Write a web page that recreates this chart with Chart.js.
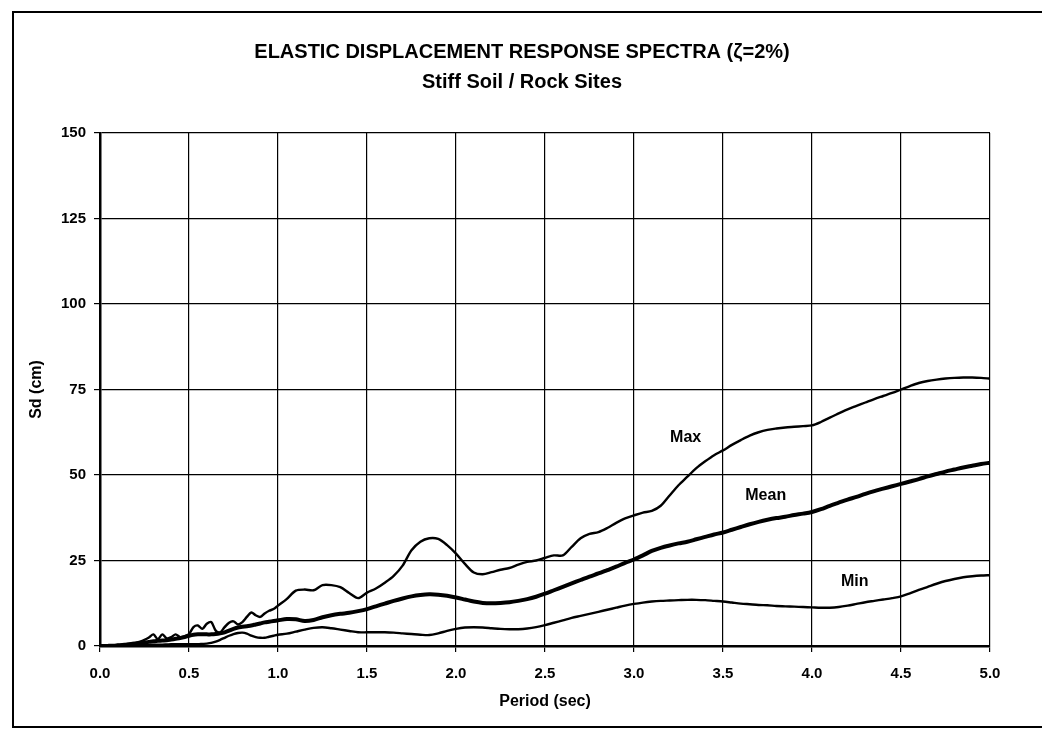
<!DOCTYPE html>
<html>
<head>
<meta charset="utf-8">
<script src="https://cdn.jsdelivr.net/npm/chart.js@4.4.1/dist/chart.umd.min.js"></script>
<style>
  html, body { margin: 0; padding: 0; background: #fff; }
  #chart { display: block; }
</style>
</head>
<body>
<canvas id="chart" width="1042" height="730"></canvas>
<script>
// Period (sec): fine steps up to 1.0 s, then 0.05 s steps
const periods = [
  0.000, 0.025, 0.050, 0.075, 0.100, 0.125, 0.150, 0.175, 0.200, 0.225,
  0.250, 0.275, 0.300, 0.325, 0.350, 0.375, 0.400, 0.425, 0.450, 0.475,
  0.500, 0.525, 0.550, 0.575, 0.600, 0.625, 0.650, 0.675, 0.700, 0.725,
  0.750, 0.775, 0.800, 0.825, 0.850, 0.875, 0.900, 0.925, 0.950, 0.975,
  1.00, 1.05, 1.10, 1.15, 1.20, 1.25, 1.30, 1.35, 1.40, 1.45,
  1.50, 1.55, 1.60, 1.65, 1.70, 1.75, 1.80, 1.85, 1.90, 1.95,
  2.00, 2.05, 2.10, 2.15, 2.20, 2.25, 2.30, 2.35, 2.40, 2.45,
  2.50, 2.55, 2.60, 2.65, 2.70, 2.75, 2.80, 2.85, 2.90, 2.95,
  3.00, 3.05, 3.10, 3.15, 3.20, 3.25, 3.30, 3.35, 3.40, 3.45,
  3.50, 3.55, 3.60, 3.65, 3.70, 3.75, 3.80, 3.85, 3.90, 3.95,
  4.00, 4.05, 4.10, 4.15, 4.20, 4.25, 4.30, 4.35, 4.40, 4.45,
  4.50, 4.55, 4.60, 4.65, 4.70, 4.75, 4.80, 4.85, 4.90, 4.95,
  5.00
];

// Sd (cm) for each period
const sdMax = [
  0, 0, 0.1, 0.2, 0.3, 0.4, 0.6, 0.8, 1.0, 1.3,
  1.8, 2.5, 3.4, 2.0, 3.4, 2.2, 2.6, 3.4, 2.6, 2.9,
  3.5, 5.5, 6.0, 5.0, 6.5, 7.0, 4.5, 4.0, 5.5, 6.8,
  7.2, 6.3, 7.0, 8.5, 9.8, 9.0, 8.5, 9.5, 10.3, 10.8,
  11.8, 13.8, 16.2, 16.5, 16.3, 17.8, 17.8, 17.2, 15.5, 14.0,
  15.6, 16.8, 18.5, 20.5, 23.5, 28.0, 30.5, 31.5, 31.3, 29.5,
  27.0, 24.0, 21.5, 21.0, 21.6, 22.3, 22.8, 23.8, 24.6, 25.0,
  25.8, 26.5, 26.5, 29.0, 31.5, 32.8, 33.3, 34.5, 36.0, 37.3,
  38.2, 39.0, 39.5, 41.0, 44.0, 47.0, 49.5, 52.0, 54.0, 55.8,
  57.2, 58.8, 60.2, 61.5, 62.5, 63.2, 63.6, 63.9, 64.1, 64.3,
  64.5, 65.5, 66.8, 68.0, 69.2, 70.2, 71.2, 72.2, 73.1, 74.0,
  75.0, 76.0, 76.9, 77.5, 77.9, 78.2, 78.4, 78.5, 78.5, 78.4,
  78.2
];

const sdMean = [
  0, 0, 0.05, 0.1, 0.2, 0.3, 0.4, 0.5, 0.7, 0.9,
  1.0, 1.2, 1.4, 1.5, 1.6, 1.7, 1.9, 2.1, 2.3, 2.6,
  3.0, 3.3, 3.4, 3.4, 3.4, 3.4, 3.5, 3.7, 4.0, 4.5,
  5.0, 5.4, 5.6, 5.8, 6.0, 6.3, 6.6, 6.9, 7.1, 7.3,
  7.5, 7.9, 7.8, 7.3, 7.6, 8.4, 9.0, 9.4, 9.7, 10.2,
  10.8, 11.6, 12.4, 13.2, 13.9, 14.5, 14.9, 15.1, 15.0, 14.7,
  14.2, 13.6, 13.0, 12.6, 12.5, 12.6, 12.8, 13.2, 13.7, 14.4,
  15.3, 16.3, 17.3, 18.3, 19.3, 20.3, 21.2, 22.2, 23.2, 24.3,
  25.3, 26.5, 27.8, 28.7, 29.4, 30.0, 30.5, 31.2, 31.9, 32.6,
  33.2, 34.0, 34.8, 35.6, 36.3, 36.9, 37.4, 37.8, 38.3, 38.7,
  39.2, 40.0, 41.0, 41.9, 42.8, 43.6, 44.5, 45.3, 46.0, 46.7,
  47.4, 48.1, 48.8, 49.6, 50.3, 51.0, 51.6, 52.2, 52.7, 53.2,
  53.6
];

const sdMin = [
  0, 0, 0, 0.05, 0.1, 0.1, 0.15, 0.2, 0.2, 0.25,
  0.3, 0.3, 0.35, 0.4, 0.4, 0.45, 0.5, 0.5, 0.5, 0.5,
  0.5, 0.5, 0.5, 0.6, 0.7, 0.9, 1.3, 1.8, 2.4, 3.0,
  3.5, 3.8, 3.9, 3.6, 3.0, 2.6, 2.4, 2.4, 2.7, 3.0,
  3.3, 3.6, 4.2, 4.8, 5.3, 5.5, 5.2, 4.8, 4.4, 4.0,
  4.0, 4.0, 4.0, 3.9, 3.7, 3.5, 3.3, 3.2, 3.7, 4.4,
  5.0, 5.4, 5.5, 5.4, 5.2, 5.0, 4.9, 4.9, 5.1, 5.5,
  6.1, 6.8, 7.5, 8.2, 8.8, 9.4, 10.0, 10.6, 11.2, 11.8,
  12.3, 12.7, 13.0, 13.2, 13.3, 13.4, 13.5, 13.5, 13.4, 13.2,
  13.0, 12.7, 12.4, 12.2, 12.0, 11.9, 11.7, 11.6, 11.5, 11.4,
  11.3, 11.2, 11.2, 11.4, 11.8, 12.3, 12.8, 13.2, 13.6, 14.0,
  14.5, 15.4, 16.4, 17.3, 18.2, 19.0, 19.6, 20.1, 20.4, 20.6,
  20.7
];

const titleLines = ['ELASTIC DISPLACEMENT RESPONSE SPECTRA (\u03b6=2%)', 'Stiff Soil / Rock Sites'];

// Curve names written on the plot, placed in data units
const curveLabels = [
  { text: 'Max', x: 3.29, y: 61 },
  { text: 'Mean', x: 3.74, y: 44 },
  { text: 'Min', x: 4.24, y: 18.7 }
];

const FONT = "'Liberation Sans', Arial, sans-serif";

const toPoints = vals => periods.map((p, i) => ({ x: p, y: vals[i] }));

// Title, curve names and the outer frame
const extrasPlugin = {
  id: 'extras',
  afterDraw(chart) {
    const ctx = chart.ctx;
    const xs = chart.scales.x;
    const ys = chart.scales.y;
    ctx.save();
    ctx.fillStyle = '#000';
    ctx.textAlign = 'center';
    ctx.textBaseline = 'middle';
    ctx.font = 'bold 20px ' + FONT;
    ctx.fillText(titleLines[0], 522, 52);
    ctx.fillText(titleLines[1], 522, 82);
    ctx.font = 'bold 16px ' + FONT;
    curveLabels.forEach(l => {
      ctx.fillText(l.text, xs.getPixelForValue(l.x), ys.getPixelForValue(l.y));
    });
    ctx.strokeStyle = '#000';
    ctx.lineWidth = 2;
    ctx.strokeRect(13, 12, 1100, 715);
    ctx.restore();
  }
};

new Chart(document.getElementById('chart'), {
  type: 'line',
  plugins: [extrasPlugin],
  data: {
    datasets: [
      { label: 'Max', data: toPoints(sdMax), borderColor: '#000', borderWidth: 2.4, pointRadius: 0, tension: 0.3 },
      { label: 'Mean', data: toPoints(sdMean), borderColor: '#000', borderWidth: 4, pointRadius: 0, tension: 0.3 },
      { label: 'Min', data: toPoints(sdMin), borderColor: '#000', borderWidth: 2.4, pointRadius: 0, tension: 0.3 }
    ]
  },
  options: {
    responsive: false,
    animation: false,
    devicePixelRatio: 1,
    layout: { padding: { left: 0, right: 52, top: 133, bottom: 0 } },
    plugins: {
      legend: { display: false },
      tooltip: { enabled: false },
      title: { display: false }
    },
    scales: {
      x: {
        type: 'linear',
        min: 0,
        max: 5,
        afterFit: s => { s.height = 84; },
        ticks: {
          stepSize: 0.5,
          color: '#000',
          padding: 13,
          maxRotation: 0,
          font: { family: FONT, size: 15, weight: 'bold' },
          callback: v => v.toFixed(1)
        },
        grid: { color: '#000', lineWidth: 1.2, tickLength: 6 },
        border: { color: '#000', width: 2.5 },
        title: {
          display: true,
          text: 'Period (sec)',
          color: '#000',
          font: { family: FONT, size: 16, weight: 'bold' },
          padding: { top: 0, bottom: 18.6 }
        }
      },
      y: {
        min: 0,
        max: 150,
        afterFit: s => { s.width = 100; },
        ticks: {
          stepSize: 25,
          color: '#000',
          padding: 8,
          font: { family: FONT, size: 15, weight: 'bold' }
        },
        grid: { color: '#000', lineWidth: 1.2, tickLength: 6 },
        border: { color: '#000', width: 2.5 },
        title: {
          display: true,
          text: 'Sd (cm)',
          color: '#000',
          font: { family: FONT, size: 16, weight: 'bold' },
          padding: { top: 27, bottom: 0 }
        }
      }
    }
  }
});
</script>
</body>
</html>
